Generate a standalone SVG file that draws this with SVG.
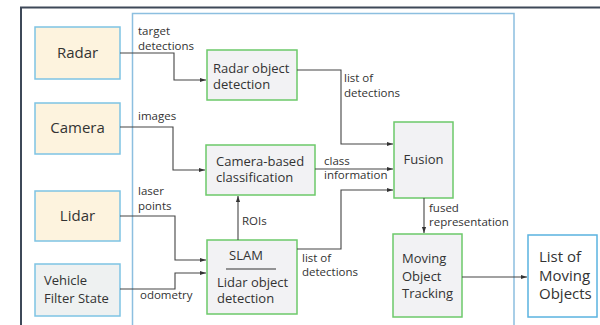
<svg xmlns="http://www.w3.org/2000/svg" width="600" height="325" viewBox="0 0 600 325">
<defs>
<marker id="ah" viewBox="0 0 10 10" refX="10" refY="5" markerWidth="6" markerHeight="6" orient="auto" markerUnits="userSpaceOnUse">
<path d="M0,1.5 L10,5 L0,8.5 z" fill="#333"/>
</marker>
<style>
text{font-family:"Open Sans","Noto Sans","DejaVu Sans",sans-serif;fill:#333}
.big{font-size:15px}
.mid{font-size:13px}
.lab{font-size:11.5px}
.src{fill:#fdf3de;stroke:#7ec3e4;stroke-width:1.5}
.veh{fill:#eef1f1;stroke:#7ec3e4;stroke-width:1.5}
.proc{fill:#f2f2f4;stroke:#6cc96a;stroke-width:1.5}
.out{fill:#fff;stroke:#5ab3e0;stroke-width:1.5}
.c{fill:none;stroke:#444;stroke-width:1.1;marker-end:url(#ah)}
</style>
</defs>
<rect width="600" height="325" fill="#fff"/>
<path d="M21,330 V7.5 H605" fill="none" stroke="#3e4858" stroke-width="2"/>
<path d="M132.5,330 V13.5 H514 V330" fill="none" stroke="#8cbfe0" stroke-width="1.5"/>

<g id="radar"><rect class="src" x="35" y="27" width="85" height="52"/><text class="big" x="77.5" y="58" text-anchor="middle">Radar</text></g>
<g id="camera"><rect class="src" x="35" y="103" width="85" height="51"/><text class="big" x="77.5" y="133" text-anchor="middle">Camera</text></g>
<g id="lidar"><rect class="src" x="35" y="191" width="85" height="50"/><text class="big" x="77.5" y="221" text-anchor="middle">Lidar</text></g>
<g id="vehicle"><rect class="veh" x="35" y="264" width="85" height="52"/><text class="mid" x="44" y="285">Vehicle</text><text class="mid" x="44" y="303">Filter State</text></g>

<g id="radar-det"><rect class="proc" x="207" y="50" width="90" height="50"/><text class="mid" x="213" y="73">Radar object</text><text class="mid" x="213" y="89">detection</text></g>
<g id="cam-class"><rect class="proc" x="206" y="145" width="109" height="50"/><text class="mid" x="216" y="166">Camera-based</text><text class="mid" x="216" y="182">classification</text></g>
<g id="slam"><rect class="proc" x="207" y="240" width="90" height="74"/><text class="mid" x="246" y="260" text-anchor="middle">SLAM</text><line x1="226" y1="269" x2="276" y2="269" stroke="#333" stroke-width="1"/><text class="mid" x="217" y="287">Lidar object</text><text class="mid" x="217" y="303">detection</text></g>
<g id="fusion"><rect class="proc" x="394" y="122" width="59" height="76"/><text class="mid" x="423.5" y="164" text-anchor="middle">Fusion</text></g>
<g id="mot"><rect class="proc" x="393" y="234" width="69" height="83"/><text class="mid" x="402" y="263">Moving</text><text class="mid" x="402" y="281">Object</text><text class="mid" x="402" y="298">Tracking</text></g>
<g id="list"><rect class="out" x="528" y="235" width="69" height="82"/><text class="big" x="539" y="262">List of</text><text class="big" x="539" y="281">Moving</text><text class="big" x="539" y="299">Objects</text></g>

<g id="connectors">
<path class="c" d="M120,53 H174 V80 H206"/>
<path class="c" d="M120,127 H173 V170 H205"/>
<path class="c" d="M120,216 H175 V260 H206"/>
<path class="c" d="M120,289 H175 V273 H206"/>
<path class="c" d="M238,240 V196"/>
<path class="c" d="M297,70 H341 V144 H393"/>
<path class="c" d="M315,169 H393"/>
<path class="c" d="M297,249 H341 V190 H393"/>
<path class="c" d="M424,198 V233"/>
<path class="c" d="M462,277 H527"/>
</g>

<g id="labels">
<text class="lab" x="138" y="35">target</text>
<text class="lab" x="138" y="50">detections</text>
<text class="lab" x="138" y="120">images</text>
<text class="lab" x="138" y="195">laser</text>
<text class="lab" x="138" y="210">points</text>
<text class="lab" x="140" y="299">odometry</text>
<text class="lab" x="242" y="225">ROIs</text>
<text class="lab" x="344" y="82">list of</text>
<text class="lab" x="344" y="97">detections</text>
<text class="lab" x="324" y="165">class</text>
<text class="lab" x="324" y="179">information</text>
<text class="lab" x="302" y="262">list of</text>
<text class="lab" x="302" y="276">detections</text>
<text class="lab" x="429" y="212">fused</text>
<text class="lab" x="429" y="226">representation</text>
</g>
</svg>
